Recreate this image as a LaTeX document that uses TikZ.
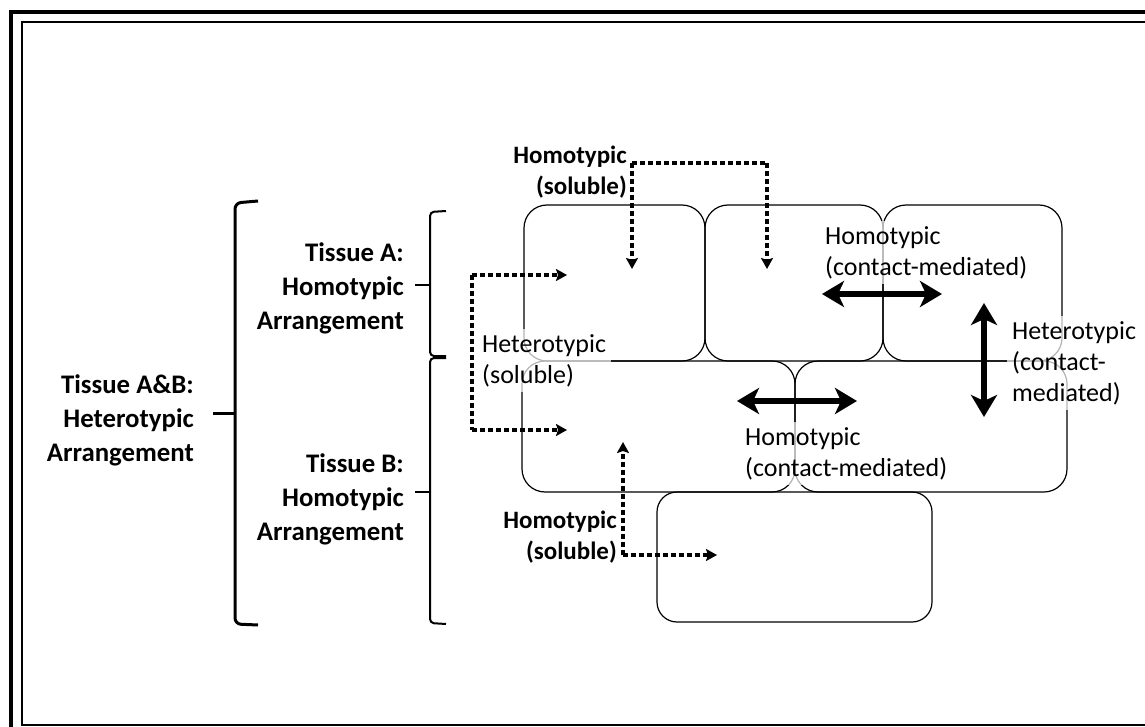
\documentclass[tikz,border=0pt]{standalone}
\usepackage{fontspec}
\setmainfont{Carlito}
\usetikzlibrary{arrows.meta}
\begin{document}
\begin{tikzpicture}[x=1pt,y=-1pt,
  cell/.style={draw=black, line width=1.2pt, rounded corners=23pt, inner sep=0pt, outer sep=0pt, anchor=north west},
  boldlab/.style={font=\bfseries\fontsize{26.8}{34}\selectfont, align=right, inner sep=0pt, anchor=north east},
  sollab/.style={font=\bfseries\fontsize{25}{31}\selectfont, align=right, inner sep=0pt, anchor=north east},
  reglab/.style={font=\fontsize{26}{31}\selectfont, align=left, inner sep=5pt, anchor=north west, fill=white, fill opacity=0.7, text opacity=1},
  dotline/.style={line width=4.5pt, dash pattern=on 5pt off 3pt, -{Stealth[length=11pt,width=12pt,inset=2pt]}},
  dotplain/.style={line width=4.5pt, dash pattern=on 5pt off 3pt},
  solidarrow/.style={line width=6pt, {Stealth[length=22pt,width=26pt,inset=6pt]}-{Stealth[length=22pt,width=26pt,inset=6pt]}},
  bigbrace/.style={line width=3pt, rounded corners=6pt},
  smallbrace/.style={line width=2pt, rounded corners=4pt}
]
\useasboundingbox (0,0) rectangle (1145,727);
% frame
\draw[line width=4pt] (11,727) -- (11,12) -- (1145,12);
\draw[line width=2.5pt] (1145,22) -- (22,22) -- (22,725) -- (1145,725);

% cells
\node[cell, minimum width=181pt, minimum height=156pt] (A1) at (524,205) {};
\node[cell, minimum width=178pt, minimum height=156pt] (A2) at (705,205) {};
\node[cell, minimum width=179pt, minimum height=156pt] (A3) at (883,205) {};
\node[cell, minimum width=273pt, minimum height=131pt] (B1) at (522,361) {};
\node[cell, minimum width=272pt, minimum height=131pt] (B2) at (795,361) {};
\node[cell, minimum width=275pt, minimum height=130pt, rounded corners=20pt] (C1) at (657,492) {};

% left labels
\node[boldlab] (tAB) at (194,374) {Tissue A\&B:\\Heterotypic\\Arrangement};
\node[boldlab] (tA) at (404,242) {Tissue A:\\Homotypic\\Arrangement};
\node[boldlab] (tB) at (404,453) {Tissue B:\\Homotypic\\Arrangement};

% brackets
\coordinate (bABmid) at (235,413);
\coordinate (bAmid) at (430,285);
\coordinate (bBmid) at (430,492);
\draw[bigbrace] (258,201) -- (235,203) -- (235,624) -- (258,625);
\draw[line width=3pt] ([xshift=19pt]tAB.east |- bABmid) -- (bABmid);
\draw[smallbrace] (446,211) -- (430,212) -- (430,356) -- (446,356);
\draw[smallbrace] (446,358) -- (430,358) -- (430,623) -- (446,624);
\draw[line width=2pt] ([xshift=11pt]tA.east |- bAmid) -- (bAmid);
\draw[line width=2pt] ([xshift=11pt]tB.east |- bBmid) -- (bBmid);

% regular labels with translucent boxes
\node[reglab] (hetS) at (477,329) {Heterotypic\\(soluble)};
\node[reglab] (homC1) at (820,221) {Homotypic\\(contact-mediated)};
\node[reglab] (homC2) at (740,422) {Homotypic\\(contact-mediated)};
\node[reglab] (hetC) at (1007,316) {Heterotypic\\(contact-\\mediated)};

% bold soluble labels
\node[sollab] (homS1) at (627,146) {Homotypic\\(soluble)};
\node[sollab] (homS2) at (617,511) {Homotypic\\(soluble)};

% dotted arrows: top homotypic soluble
\coordinate (s1c) at (632,163);
\coordinate (s1r) at (767,163);
\coordinate (s1t1) at (632,269);
\coordinate (s1t2) at (767,269);
\draw[dotplain] (s1c) -- (s1r);
\draw[dotline] (s1c) -- (s1t1);
\draw[dotline] (s1r) -- (s1t2);

% heterotypic soluble
\coordinate (h1) at (472,275);
\coordinate (h2) at (472,430);
\coordinate (h1t) at (567,275);
\coordinate (h2t) at (567,430);
\draw[dotplain] (h1) -- (h2);
\draw[dotline] (h1) -- (h1t);
\draw[dotline] (h2) -- (h2t);

% bottom homotypic soluble
\coordinate (s2c) at (623,555);
\coordinate (s2u) at (623,442);
\coordinate (s2r) at (717,555);
\draw[dotline] (s2c) -- (s2u);
\draw[dotline] (s2c) -- (s2r);

% solid double arrows
\coordinate (ca1) at (822,294);
\coordinate (ca2) at (942,294);
\coordinate (cb1) at (737,401);
\coordinate (cb2) at (857,401);
\coordinate (cv1) at (984,303);
\coordinate (cv2) at (984,417);
\draw[solidarrow] (ca1) -- (ca2);
\draw[solidarrow] (cb1) -- (cb2);
\draw[solidarrow] (cv1) -- (cv2);
\end{tikzpicture}
\end{document}
